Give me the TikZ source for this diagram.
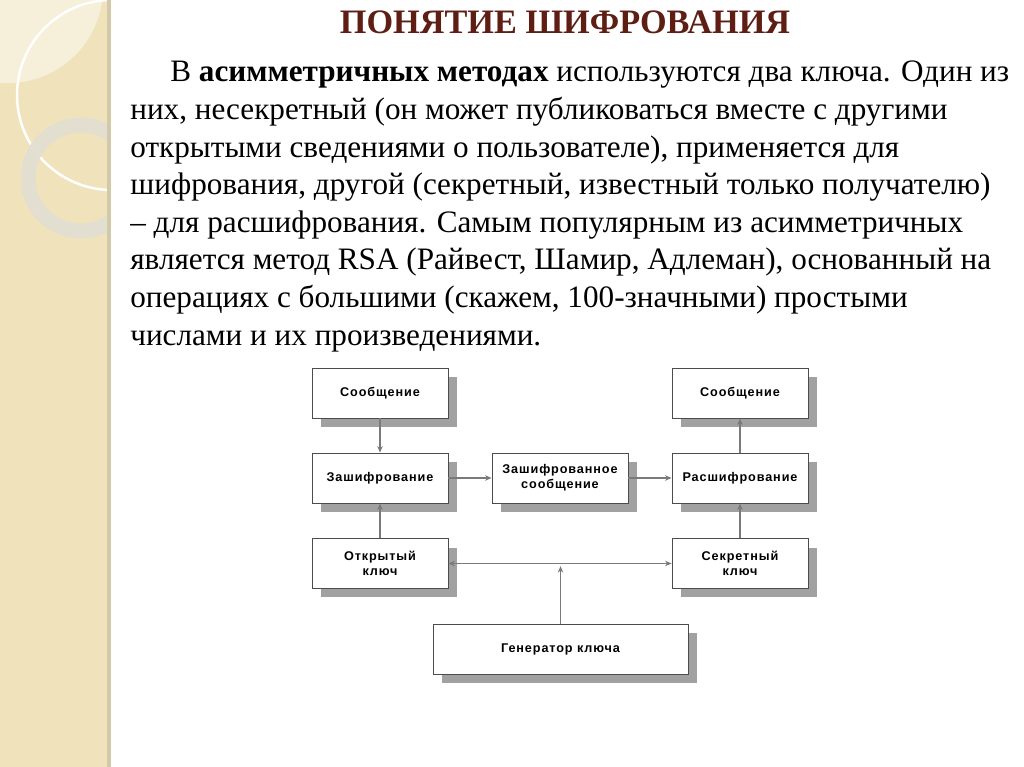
\documentclass[tikz,border=0pt]{standalone}
\usepackage{fontspec}
\setmainfont{Liberation Serif}
\newfontfamily\boxfont[LetterSpace=7.0]{Liberation Sans}
\usepackage{xcolor}
\usetikzlibrary{arrows.meta,shadows}
\definecolor{stripbg}{HTML}{F0E3BC}
\definecolor{stripedge}{HTML}{D2C9A8}
\definecolor{ringgray}{HTML}{E2DED2}
\definecolor{titlebrown}{HTML}{5E1E14}
\definecolor{linegray}{HTML}{7A7A7A}

\begin{document}
\begin{tikzpicture}[x=0.02cm,y=-0.02cm,>={Stealth[length=1.3mm,width=1.1mm]},
  block/.style={draw=black!70,fill=white,line width=0.5pt,minimum width=2.72cm,minimum height=1cm,
    align=center,font=\boxfont\bfseries\fontsize{7.2}{8.6}\selectfont,
    general shadow={fill=black!37,shadow xshift=0.18cm,shadow yshift=-0.18cm}},
  flow/.style={draw=linegray,line width=0.6pt},
  line/.style={anchor=base west,inner sep=0pt,font=\fontsize{17.75}{20}\selectfont}]
  \useasboundingbox (0,0) rectangle (1024,767);
  % left strip
  \fill[white] (0,0) rectangle (1024,767);
  \fill[stripbg] (0,0) rectangle (110,767);
  \begin{scope}
    \clip (0,0) rectangle (110,767);
    \fill[white,opacity=0.45] (8,-12) circle (95);
    \draw[white,line width=1.4pt] (112,95) circle (95);
    \draw[ringgray,line width=0.3cm,opacity=0.95] (81,178) circle (53);
  \end{scope}
  \fill[stripedge] (107,0) rectangle (111,767);
  % title
  \node[font=\bfseries\fontsize{19.5}{22}\selectfont,text=titlebrown] (title) at (565,22) {ПОНЯТИЕ ШИФРОВАНИЯ};
  % text
  \node[line] (t1) at (170,82) {В \textbf{асимметричных методах} используются два ключа. Один из};
  \node[line] (t2) at (130,119.6) {них, несекретный (он может публиковаться вместе с другими};
  \node[line] (t3) at (130,157.1) {открытыми сведениями о пользователе), применяется для};
  \node[line] (t4) at (130,194.7) {шифрования, другой (секретный, известный только получателю)};
  \node[line] (t5) at (130,232.3) {– для расшифрования. Самым популярным из асимметричных};
  \node[line] (t6) at (130,269.9) {является метод RSA (Райвест, Шамир, Адлеман), основанный на};
  \node[line] (t7) at (130,307.4) {операциях с большими (скажем, 100-значными) простыми};
  \node[line] (t8) at (130,345) {числами и их произведениями.};
  % scheme
  \node[block] (msgL) at (380,393) {Сообщение};
  \node[block] (enc) at (380,478) {Зашифрование};
  \node[block] (cmsg) at (560,478) {Зашифрованное\\сообщение};
  \node[block] (keyL) at (380,563.5) {Открытый\\ключ};
  \node[block] (msgR) at (740,393) {Сообщение};
  \node[block] (dec) at (740,478) {Расшифрование};
  \node[block] (keyR) at (740,563.5) {Секретный\\ключ};
  \node[block,minimum width=5.1cm] (gen) at (560.5,649) {Генератор ключа};
  \coordinate (j) at (gen.north |- keyL);
  \draw[flow,->] (msgL) -- (enc);
  \draw[flow,->] (keyL) -- (enc);
  \draw[flow,->] (enc) -- (cmsg);
  \draw[flow,->] (cmsg) -- (dec);
  \draw[flow,->] (keyR) -- (dec);
  \draw[flow,->] (dec) -- (msgR);
  \draw[flow,<->] (keyL) -- (keyR);
  \draw[flow,->,shorten >=1.5pt] (gen) -- (j);
\end{tikzpicture}
\end{document}
